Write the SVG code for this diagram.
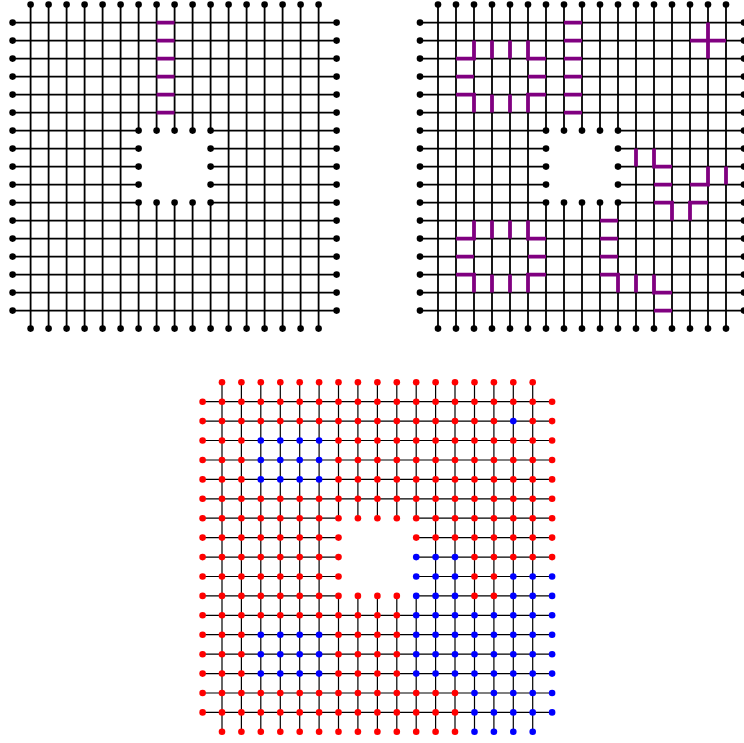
<svg xmlns="http://www.w3.org/2000/svg" xmlns:xlink="http://www.w3.org/1999/xlink" width="744" height="743" viewBox="0 0 744 743">
<style>
.ln{fill:none;stroke:#000;stroke-width:1.8}
.dt circle{fill:#000}
.pm{fill:none;stroke:#800080;stroke-width:3.8;stroke-linejoin:miter}
.bl{fill:none;stroke:#000;stroke-width:1.2}
.bn circle{fill:#f00}
.bn circle.b{fill:#00f}
</style>
<defs>
<g id="lat">
<path class="ln" d="M12.6 22.6H336.6M12.6 40.6H336.6M12.6 58.6H336.6M12.6 76.6H336.6M12.6 94.6H336.6M12.6 112.6H336.6M12.6 220.6H336.6M12.6 238.6H336.6M12.6 256.6H336.6M12.6 274.6H336.6M12.6 292.6H336.6M12.6 310.6H336.6M12.6 130.6H138.6M210.6 130.6H336.6M12.6 148.6H138.6M210.6 148.6H336.6M12.6 166.6H138.6M210.6 166.6H336.6M12.6 184.6H138.6M210.6 184.6H336.6M12.6 202.6H138.6M210.6 202.6H336.6M30.6 4.6V328.6M48.6 4.6V328.6M66.6 4.6V328.6M84.6 4.6V328.6M102.6 4.6V328.6M120.6 4.6V328.6M228.6 4.6V328.6M246.6 4.6V328.6M264.6 4.6V328.6M282.6 4.6V328.6M300.6 4.6V328.6M318.6 4.6V328.6M138.6 4.6V130.6M138.6 202.6V328.6M156.6 4.6V130.6M156.6 202.6V328.6M174.6 4.6V130.6M174.6 202.6V328.6M192.6 4.6V130.6M192.6 202.6V328.6M210.6 4.6V130.6M210.6 202.6V328.6"/>
<g class="dt">
<g transform="translate(0 4.6)"><circle cx="30.6" r="3.3"/><circle cx="48.6" r="3.3"/><circle cx="66.6" r="3.3"/><circle cx="84.6" r="3.3"/><circle cx="102.6" r="3.3"/><circle cx="120.6" r="3.3"/><circle cx="138.6" r="3.3"/><circle cx="156.6" r="3.3"/><circle cx="174.6" r="3.3"/><circle cx="192.6" r="3.3"/><circle cx="210.6" r="3.3"/><circle cx="228.6" r="3.3"/><circle cx="246.6" r="3.3"/><circle cx="264.6" r="3.3"/><circle cx="282.6" r="3.3"/><circle cx="300.6" r="3.3"/><circle cx="318.6" r="3.3"/></g>
<g transform="translate(0 328.6)"><circle cx="30.6" r="3.3"/><circle cx="48.6" r="3.3"/><circle cx="66.6" r="3.3"/><circle cx="84.6" r="3.3"/><circle cx="102.6" r="3.3"/><circle cx="120.6" r="3.3"/><circle cx="138.6" r="3.3"/><circle cx="156.6" r="3.3"/><circle cx="174.6" r="3.3"/><circle cx="192.6" r="3.3"/><circle cx="210.6" r="3.3"/><circle cx="228.6" r="3.3"/><circle cx="246.6" r="3.3"/><circle cx="264.6" r="3.3"/><circle cx="282.6" r="3.3"/><circle cx="300.6" r="3.3"/><circle cx="318.6" r="3.3"/></g>
<g transform="translate(12.6 0)"><circle cy="22.6" r="3.3"/><circle cy="40.6" r="3.3"/><circle cy="58.6" r="3.3"/><circle cy="76.6" r="3.3"/><circle cy="94.6" r="3.3"/><circle cy="112.6" r="3.3"/><circle cy="130.6" r="3.3"/><circle cy="148.6" r="3.3"/><circle cy="166.6" r="3.3"/><circle cy="184.6" r="3.3"/><circle cy="202.6" r="3.3"/><circle cy="220.6" r="3.3"/><circle cy="238.6" r="3.3"/><circle cy="256.6" r="3.3"/><circle cy="274.6" r="3.3"/><circle cy="292.6" r="3.3"/><circle cy="310.6" r="3.3"/></g>
<g transform="translate(336.6 0)"><circle cy="22.6" r="3.3"/><circle cy="40.6" r="3.3"/><circle cy="58.6" r="3.3"/><circle cy="76.6" r="3.3"/><circle cy="94.6" r="3.3"/><circle cy="112.6" r="3.3"/><circle cy="130.6" r="3.3"/><circle cy="148.6" r="3.3"/><circle cy="166.6" r="3.3"/><circle cy="184.6" r="3.3"/><circle cy="202.6" r="3.3"/><circle cy="220.6" r="3.3"/><circle cy="238.6" r="3.3"/><circle cy="256.6" r="3.3"/><circle cy="274.6" r="3.3"/><circle cy="292.6" r="3.3"/><circle cy="310.6" r="3.3"/></g>
<g transform="translate(0 130.6)"><circle cx="138.6" r="3.3"/><circle cx="156.6" r="3.3"/><circle cx="174.6" r="3.3"/><circle cx="192.6" r="3.3"/><circle cx="210.6" r="3.3"/></g>
<g transform="translate(0 202.6)"><circle cx="138.6" r="3.3"/><circle cx="156.6" r="3.3"/><circle cx="174.6" r="3.3"/><circle cx="192.6" r="3.3"/><circle cx="210.6" r="3.3"/></g>
<circle cx="138.6" cy="148.6" r="3.3"/><circle cx="138.6" cy="166.6" r="3.3"/><circle cx="138.6" cy="184.6" r="3.3"/>
<circle cx="210.6" cy="148.6" r="3.3"/><circle cx="210.6" cy="166.6" r="3.3"/><circle cx="210.6" cy="184.6" r="3.3"/>
</g>
</g>
</defs>
<rect width="744" height="743" fill="#fff"/>
<g id="panel-top-left">
<use href="#lat" xlink:href="#lat"/>
<path id="marks-top-left" class="pm" d="M156.6 22.6H174.6M156.6 40.6H174.6M156.6 58.6H174.6M156.6 76.6H174.6M156.6 94.6H174.6M156.6 112.6H174.6"/>
</g>
<g id="panel-top-right">
<use href="#lat" xlink:href="#lat" x="407.4"/>
<path id="marks-top-right" class="pm" d="M564 22.6H582M564 40.6H582M564 58.6H582M564 76.6H582M564 94.6H582M564 112.6H582
M474 40.6V58.6H456M492 40.6V58.6M510 40.6V58.6M528 40.6V58.6H546M456 76.6H474M528 76.6H546M456 94.6H474V112.6M492 94.6V112.6M510 94.6V112.6M546 94.6H528V112.6
M474 220.6V238.6H456M492 220.6V238.6M510 220.6V238.6M528 220.6V238.6H546M456 256.6H474M528 256.6H546M456 274.6H474V292.6M492 274.6V292.6M510 274.6V292.6M546 274.6H528V292.6
M708 22.6V58.6M690 40.6H726
M636 148.6V166.6M654 148.6V166.6H672M654 184.6H672M654 202.6H672V220.6M708 202.6H690V220.6M690 184.6H708V166.6M726 166.6V184.6
M600 220.6H618M600 238.6H618M600 256.6H618M600 274.6H618V292.6M636 274.6V292.6M654 274.6V292.6H672M654 310.6H672"/>
</g>
<g id="panel-bottom">
<g id="bottom-edges">
<path class="bl" d="M202.6 401.7H552.1M202.6 421.1H552.1M202.6 440.5H552.1M202.6 460H552.1M202.6 479.4H552.1M202.6 498.8H552.1M202.6 615.3H552.1M202.6 634.7H552.1M202.6 654.2H552.1M202.6 673.6H552.1M202.6 693H552.1M202.6 712.4H552.1M202.6 518.2H338.5M416.2 518.2H552.1M202.6 537.6H338.5M416.2 537.6H552.1M202.6 557.1H338.5M416.2 557.1H552.1M202.6 576.5H338.5M416.2 576.5H552.1M202.6 595.9H338.5M416.2 595.9H552.1M222 382.3V731.8M241.4 382.3V731.8M260.8 382.3V731.8M280.3 382.3V731.8M299.7 382.3V731.8M319.1 382.3V731.8M435.6 382.3V731.8M455 382.3V731.8M474.5 382.3V731.8M493.9 382.3V731.8M513.3 382.3V731.8M532.7 382.3V731.8M338.5 382.3V518.2M338.5 595.9V731.8M357.9 382.3V518.2M357.9 595.9V731.8M377.4 382.3V518.2M377.4 595.9V731.8M396.8 382.3V518.2M396.8 595.9V731.8M416.2 382.3V518.2M416.2 595.9V731.8"/>
</g>
<g id="bottom-nodes" class="bn">
<g id="row-top" transform="translate(0 382.3)"><circle cx="222" r="3.3"/><circle cx="241.4" r="3.3"/><circle cx="260.8" r="3.3"/><circle cx="280.3" r="3.3"/><circle cx="299.7" r="3.3"/><circle cx="319.1" r="3.3"/><circle cx="338.5" r="3.3"/><circle cx="357.9" r="3.3"/><circle cx="377.4" r="3.3"/><circle cx="396.8" r="3.3"/><circle cx="416.2" r="3.3"/><circle cx="435.6" r="3.3"/><circle cx="455" r="3.3"/><circle cx="474.5" r="3.3"/><circle cx="493.9" r="3.3"/><circle cx="513.3" r="3.3"/><circle cx="532.7" r="3.3"/></g>
<g id="row-0" transform="translate(0 401.7)"><circle cx="202.6" r="3.3"/><circle cx="222" r="3.3"/><circle cx="241.4" r="3.3"/><circle cx="260.8" r="3.3"/><circle cx="280.3" r="3.3"/><circle cx="299.7" r="3.3"/><circle cx="319.1" r="3.3"/><circle cx="338.5" r="3.3"/><circle cx="357.9" r="3.3"/><circle cx="377.4" r="3.3"/><circle cx="396.8" r="3.3"/><circle cx="416.2" r="3.3"/><circle cx="435.6" r="3.3"/><circle cx="455" r="3.3"/><circle cx="474.5" r="3.3"/><circle cx="493.9" r="3.3"/><circle cx="513.3" r="3.3"/><circle cx="532.7" r="3.3"/><circle cx="552.1" r="3.3"/></g>
<g id="row-1" transform="translate(0 421.1)"><circle cx="202.6" r="3.3"/><circle cx="222" r="3.3"/><circle cx="241.4" r="3.3"/><circle cx="260.8" r="3.3"/><circle cx="280.3" r="3.3"/><circle cx="299.7" r="3.3"/><circle cx="319.1" r="3.3"/><circle cx="338.5" r="3.3"/><circle cx="357.9" r="3.3"/><circle cx="377.4" r="3.3"/><circle cx="396.8" r="3.3"/><circle cx="416.2" r="3.3"/><circle cx="435.6" r="3.3"/><circle cx="455" r="3.3"/><circle cx="474.5" r="3.3"/><circle cx="493.9" r="3.3"/><circle class="b" cx="513.3" r="3.3"/><circle cx="532.7" r="3.3"/><circle cx="552.1" r="3.3"/></g>
<g id="row-2" transform="translate(0 440.5)"><circle cx="202.6" r="3.3"/><circle cx="222" r="3.3"/><circle cx="241.4" r="3.3"/><circle class="b" cx="260.8" r="3.3"/><circle class="b" cx="280.3" r="3.3"/><circle class="b" cx="299.7" r="3.3"/><circle class="b" cx="319.1" r="3.3"/><circle cx="338.5" r="3.3"/><circle cx="357.9" r="3.3"/><circle cx="377.4" r="3.3"/><circle cx="396.8" r="3.3"/><circle cx="416.2" r="3.3"/><circle cx="435.6" r="3.3"/><circle cx="455" r="3.3"/><circle cx="474.5" r="3.3"/><circle cx="493.9" r="3.3"/><circle cx="513.3" r="3.3"/><circle cx="532.7" r="3.3"/><circle cx="552.1" r="3.3"/></g>
<g id="row-3" transform="translate(0 460)"><circle cx="202.6" r="3.3"/><circle cx="222" r="3.3"/><circle cx="241.4" r="3.3"/><circle class="b" cx="260.8" r="3.3"/><circle class="b" cx="280.3" r="3.3"/><circle class="b" cx="299.7" r="3.3"/><circle class="b" cx="319.1" r="3.3"/><circle cx="338.5" r="3.3"/><circle cx="357.9" r="3.3"/><circle cx="377.4" r="3.3"/><circle cx="396.8" r="3.3"/><circle cx="416.2" r="3.3"/><circle cx="435.6" r="3.3"/><circle cx="455" r="3.3"/><circle cx="474.5" r="3.3"/><circle cx="493.9" r="3.3"/><circle cx="513.3" r="3.3"/><circle cx="532.7" r="3.3"/><circle cx="552.1" r="3.3"/></g>
<g id="row-4" transform="translate(0 479.4)"><circle cx="202.6" r="3.3"/><circle cx="222" r="3.3"/><circle cx="241.4" r="3.3"/><circle class="b" cx="260.8" r="3.3"/><circle class="b" cx="280.3" r="3.3"/><circle class="b" cx="299.7" r="3.3"/><circle class="b" cx="319.1" r="3.3"/><circle cx="338.5" r="3.3"/><circle cx="357.9" r="3.3"/><circle cx="377.4" r="3.3"/><circle cx="396.8" r="3.3"/><circle cx="416.2" r="3.3"/><circle cx="435.6" r="3.3"/><circle cx="455" r="3.3"/><circle cx="474.5" r="3.3"/><circle cx="493.9" r="3.3"/><circle cx="513.3" r="3.3"/><circle cx="532.7" r="3.3"/><circle cx="552.1" r="3.3"/></g>
<g id="row-5" transform="translate(0 498.8)"><circle cx="202.6" r="3.3"/><circle cx="222" r="3.3"/><circle cx="241.4" r="3.3"/><circle cx="260.8" r="3.3"/><circle cx="280.3" r="3.3"/><circle cx="299.7" r="3.3"/><circle cx="319.1" r="3.3"/><circle cx="338.5" r="3.3"/><circle cx="357.9" r="3.3"/><circle cx="377.4" r="3.3"/><circle cx="396.8" r="3.3"/><circle cx="416.2" r="3.3"/><circle cx="435.6" r="3.3"/><circle cx="455" r="3.3"/><circle cx="474.5" r="3.3"/><circle cx="493.9" r="3.3"/><circle cx="513.3" r="3.3"/><circle cx="532.7" r="3.3"/><circle cx="552.1" r="3.3"/></g>
<g id="row-6" transform="translate(0 518.2)"><circle cx="202.6" r="3.3"/><circle cx="222" r="3.3"/><circle cx="241.4" r="3.3"/><circle cx="260.8" r="3.3"/><circle cx="280.3" r="3.3"/><circle cx="299.7" r="3.3"/><circle cx="319.1" r="3.3"/><circle cx="338.5" r="3.3"/><circle cx="357.9" r="3.3"/><circle cx="377.4" r="3.3"/><circle cx="396.8" r="3.3"/><circle cx="416.2" r="3.3"/><circle cx="435.6" r="3.3"/><circle cx="455" r="3.3"/><circle cx="474.5" r="3.3"/><circle cx="493.9" r="3.3"/><circle cx="513.3" r="3.3"/><circle cx="532.7" r="3.3"/><circle cx="552.1" r="3.3"/></g>
<g id="row-7" transform="translate(0 537.6)"><circle cx="202.6" r="3.3"/><circle cx="222" r="3.3"/><circle cx="241.4" r="3.3"/><circle cx="260.8" r="3.3"/><circle cx="280.3" r="3.3"/><circle cx="299.7" r="3.3"/><circle cx="319.1" r="3.3"/><circle cx="338.5" r="3.3"/><circle cx="416.2" r="3.3"/><circle cx="435.6" r="3.3"/><circle cx="455" r="3.3"/><circle cx="474.5" r="3.3"/><circle cx="493.9" r="3.3"/><circle cx="513.3" r="3.3"/><circle cx="532.7" r="3.3"/><circle cx="552.1" r="3.3"/></g>
<g id="row-8" transform="translate(0 557.1)"><circle cx="202.6" r="3.3"/><circle cx="222" r="3.3"/><circle cx="241.4" r="3.3"/><circle cx="260.8" r="3.3"/><circle cx="280.3" r="3.3"/><circle cx="299.7" r="3.3"/><circle cx="319.1" r="3.3"/><circle cx="338.5" r="3.3"/><circle class="b" cx="416.2" r="3.3"/><circle class="b" cx="435.6" r="3.3"/><circle class="b" cx="455" r="3.3"/><circle cx="474.5" r="3.3"/><circle cx="493.9" r="3.3"/><circle cx="513.3" r="3.3"/><circle cx="532.7" r="3.3"/><circle cx="552.1" r="3.3"/></g>
<g id="row-9" transform="translate(0 576.5)"><circle cx="202.6" r="3.3"/><circle cx="222" r="3.3"/><circle cx="241.4" r="3.3"/><circle cx="260.8" r="3.3"/><circle cx="280.3" r="3.3"/><circle cx="299.7" r="3.3"/><circle cx="319.1" r="3.3"/><circle cx="338.5" r="3.3"/><circle class="b" cx="416.2" r="3.3"/><circle class="b" cx="435.6" r="3.3"/><circle class="b" cx="455" r="3.3"/><circle cx="474.5" r="3.3"/><circle cx="493.9" r="3.3"/><circle class="b" cx="513.3" r="3.3"/><circle class="b" cx="532.7" r="3.3"/><circle class="b" cx="552.1" r="3.3"/></g>
<g id="row-10" transform="translate(0 595.9)"><circle cx="202.6" r="3.3"/><circle cx="222" r="3.3"/><circle cx="241.4" r="3.3"/><circle cx="260.8" r="3.3"/><circle cx="280.3" r="3.3"/><circle cx="299.7" r="3.3"/><circle cx="319.1" r="3.3"/><circle cx="338.5" r="3.3"/><circle cx="357.9" r="3.3"/><circle cx="377.4" r="3.3"/><circle cx="396.8" r="3.3"/><circle class="b" cx="416.2" r="3.3"/><circle class="b" cx="435.6" r="3.3"/><circle class="b" cx="455" r="3.3"/><circle cx="474.5" r="3.3"/><circle cx="493.9" r="3.3"/><circle class="b" cx="513.3" r="3.3"/><circle class="b" cx="532.7" r="3.3"/><circle class="b" cx="552.1" r="3.3"/></g>
<g id="row-11" transform="translate(0 615.3)"><circle cx="202.6" r="3.3"/><circle cx="222" r="3.3"/><circle cx="241.4" r="3.3"/><circle cx="260.8" r="3.3"/><circle cx="280.3" r="3.3"/><circle cx="299.7" r="3.3"/><circle cx="319.1" r="3.3"/><circle cx="338.5" r="3.3"/><circle cx="357.9" r="3.3"/><circle cx="377.4" r="3.3"/><circle cx="396.8" r="3.3"/><circle class="b" cx="416.2" r="3.3"/><circle class="b" cx="435.6" r="3.3"/><circle class="b" cx="455" r="3.3"/><circle class="b" cx="474.5" r="3.3"/><circle class="b" cx="493.9" r="3.3"/><circle class="b" cx="513.3" r="3.3"/><circle class="b" cx="532.7" r="3.3"/><circle class="b" cx="552.1" r="3.3"/></g>
<g id="row-12" transform="translate(0 634.7)"><circle cx="202.6" r="3.3"/><circle cx="222" r="3.3"/><circle cx="241.4" r="3.3"/><circle class="b" cx="260.8" r="3.3"/><circle class="b" cx="280.3" r="3.3"/><circle class="b" cx="299.7" r="3.3"/><circle class="b" cx="319.1" r="3.3"/><circle cx="338.5" r="3.3"/><circle cx="357.9" r="3.3"/><circle cx="377.4" r="3.3"/><circle cx="396.8" r="3.3"/><circle class="b" cx="416.2" r="3.3"/><circle class="b" cx="435.6" r="3.3"/><circle class="b" cx="455" r="3.3"/><circle class="b" cx="474.5" r="3.3"/><circle class="b" cx="493.9" r="3.3"/><circle class="b" cx="513.3" r="3.3"/><circle class="b" cx="532.7" r="3.3"/><circle class="b" cx="552.1" r="3.3"/></g>
<g id="row-13" transform="translate(0 654.2)"><circle cx="202.6" r="3.3"/><circle cx="222" r="3.3"/><circle cx="241.4" r="3.3"/><circle class="b" cx="260.8" r="3.3"/><circle class="b" cx="280.3" r="3.3"/><circle class="b" cx="299.7" r="3.3"/><circle class="b" cx="319.1" r="3.3"/><circle cx="338.5" r="3.3"/><circle cx="357.9" r="3.3"/><circle cx="377.4" r="3.3"/><circle cx="396.8" r="3.3"/><circle class="b" cx="416.2" r="3.3"/><circle class="b" cx="435.6" r="3.3"/><circle class="b" cx="455" r="3.3"/><circle class="b" cx="474.5" r="3.3"/><circle class="b" cx="493.9" r="3.3"/><circle class="b" cx="513.3" r="3.3"/><circle class="b" cx="532.7" r="3.3"/><circle class="b" cx="552.1" r="3.3"/></g>
<g id="row-14" transform="translate(0 673.6)"><circle cx="202.6" r="3.3"/><circle cx="222" r="3.3"/><circle cx="241.4" r="3.3"/><circle class="b" cx="260.8" r="3.3"/><circle class="b" cx="280.3" r="3.3"/><circle class="b" cx="299.7" r="3.3"/><circle class="b" cx="319.1" r="3.3"/><circle cx="338.5" r="3.3"/><circle cx="357.9" r="3.3"/><circle cx="377.4" r="3.3"/><circle cx="396.8" r="3.3"/><circle class="b" cx="416.2" r="3.3"/><circle class="b" cx="435.6" r="3.3"/><circle class="b" cx="455" r="3.3"/><circle class="b" cx="474.5" r="3.3"/><circle class="b" cx="493.9" r="3.3"/><circle class="b" cx="513.3" r="3.3"/><circle class="b" cx="532.7" r="3.3"/><circle class="b" cx="552.1" r="3.3"/></g>
<g id="row-15" transform="translate(0 693)"><circle cx="202.6" r="3.3"/><circle cx="222" r="3.3"/><circle cx="241.4" r="3.3"/><circle cx="260.8" r="3.3"/><circle cx="280.3" r="3.3"/><circle cx="299.7" r="3.3"/><circle cx="319.1" r="3.3"/><circle cx="338.5" r="3.3"/><circle cx="357.9" r="3.3"/><circle cx="377.4" r="3.3"/><circle cx="396.8" r="3.3"/><circle cx="416.2" r="3.3"/><circle cx="435.6" r="3.3"/><circle cx="455" r="3.3"/><circle class="b" cx="474.5" r="3.3"/><circle class="b" cx="493.9" r="3.3"/><circle class="b" cx="513.3" r="3.3"/><circle class="b" cx="532.7" r="3.3"/><circle class="b" cx="552.1" r="3.3"/></g>
<g id="row-16" transform="translate(0 712.4)"><circle cx="202.6" r="3.3"/><circle cx="222" r="3.3"/><circle cx="241.4" r="3.3"/><circle cx="260.8" r="3.3"/><circle cx="280.3" r="3.3"/><circle cx="299.7" r="3.3"/><circle cx="319.1" r="3.3"/><circle cx="338.5" r="3.3"/><circle cx="357.9" r="3.3"/><circle cx="377.4" r="3.3"/><circle cx="396.8" r="3.3"/><circle cx="416.2" r="3.3"/><circle cx="435.6" r="3.3"/><circle cx="455" r="3.3"/><circle class="b" cx="474.5" r="3.3"/><circle class="b" cx="493.9" r="3.3"/><circle class="b" cx="513.3" r="3.3"/><circle class="b" cx="532.7" r="3.3"/><circle class="b" cx="552.1" r="3.3"/></g>
<g id="row-bottom" transform="translate(0 731.8)"><circle cx="222" r="3.3"/><circle cx="241.4" r="3.3"/><circle cx="260.8" r="3.3"/><circle cx="280.3" r="3.3"/><circle cx="299.7" r="3.3"/><circle cx="319.1" r="3.3"/><circle cx="338.5" r="3.3"/><circle cx="357.9" r="3.3"/><circle cx="377.4" r="3.3"/><circle cx="396.8" r="3.3"/><circle cx="416.2" r="3.3"/><circle cx="435.6" r="3.3"/><circle cx="455" r="3.3"/><circle class="b" cx="474.5" r="3.3"/><circle class="b" cx="493.9" r="3.3"/><circle class="b" cx="513.3" r="3.3"/><circle class="b" cx="532.7" r="3.3"/></g>
</g>
</g>
</svg>
